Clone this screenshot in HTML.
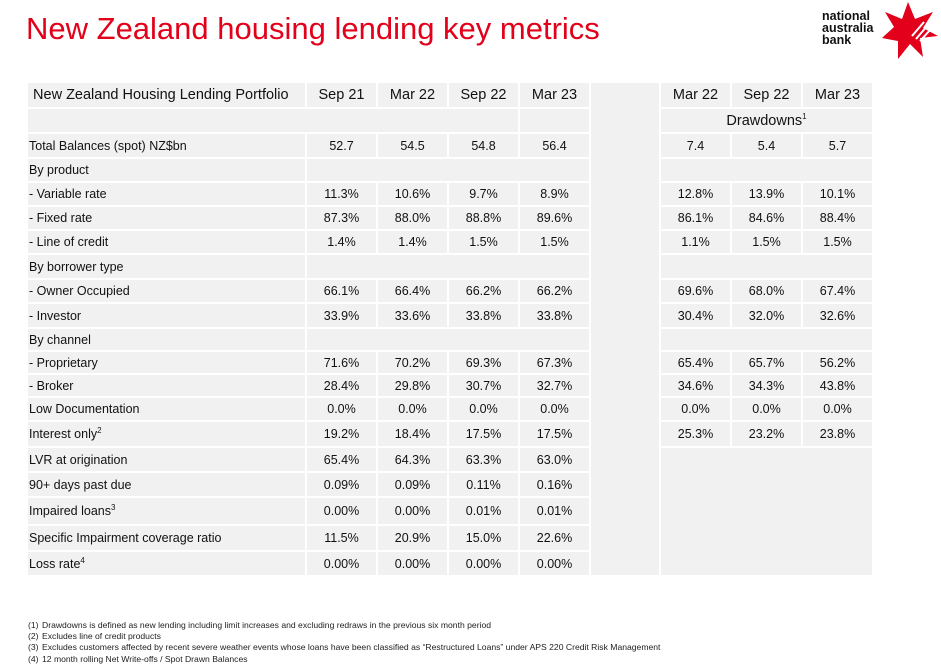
<!DOCTYPE html>
<html><head><meta charset="utf-8">
<style>
body{margin:0;width:941px;height:670px;background:#fff;position:relative;overflow:hidden;font-family:"Liberation Sans",sans-serif;}
.c{position:absolute;background:#f1f1f1;box-sizing:border-box;font-size:12.5px;color:#111;display:flex;align-items:center;white-space:nowrap;}
.v{justify-content:center;}
.l{padding-left:1px;}
.h{font-size:14.5px;}
#title{position:absolute;left:26px;top:11px;font-size:31px;color:#e2001a;white-space:nowrap;}
#logo-text{position:absolute;left:822px;top:10px;font-size:12.5px;font-weight:bold;line-height:12px;color:#111;}
.fn{position:absolute;left:28px;font-size:8.6px;color:#222;white-space:nowrap;}
.fn span{display:inline-block;width:14px;}
sup{font-size:8px;vertical-align:super;line-height:0;}
</style></head>
<body>
<div id="title">New Zealand housing lending key metrics</div>
<div id="logo-text">national<br>australia<br>bank</div>
<svg style="position:absolute;left:878px;top:0px" width="62" height="62">
<polygon fill="#e2001a" points="30,2 37,19 55,12 45,28 60,36 42,38 45,57 32,44 20,59 20,41 4,38 16,27 7,12 24,19"/>
<path d="M34,36 L46,22 M38,39 L50,25 M42,41 L53,29" stroke="#fff" stroke-width="2"/>
</svg>
<div id="tbl"></div>
<div class="fn" style="top:620px"><span>(1)</span>Drawdowns is defined as new lending including limit increases and excluding redraws in the previous six month period</div>
<div class="fn" style="top:631px"><span>(2)</span>Excludes line of credit products</div>
<div class="fn" style="top:642px"><span>(3)</span>Excludes customers affected by recent severe weather events whose loans have been classified as “Restructured Loans” under APS 220 Credit Risk Management</div>
<div class="fn" style="top:654px"><span>(4)</span>12 month rolling Net Write-offs / Spot Drawn Balances</div>
<script>
const periods=["Sep 21","Mar 22","Sep 22","Mar 23"];
const ddPeriods=["Mar 22","Sep 22","Mar 23"];
const labels=["Total Balances (spot) NZ$bn","By product"," - Variable rate"," - Fixed rate"," - Line of credit","By borrower type"," - Owner Occupied"," - Investor","By channel"," - Proprietary"," - Broker","Low Documentation","Interest only<sup>2</sup>","LVR at origination","90+ days past due","Impaired loans<sup>3</sup>","Specific Impairment coverage ratio","Loss rate<sup>4</sup>"];
const portfolio=[["52.7","54.5","54.8","56.4"],null,["11.3%","10.6%","9.7%","8.9%"],["87.3%","88.0%","88.8%","89.6%"],["1.4%","1.4%","1.5%","1.5%"],null,["66.1%","66.4%","66.2%","66.2%"],["33.9%","33.6%","33.8%","33.8%"],null,["71.6%","70.2%","69.3%","67.3%"],["28.4%","29.8%","30.7%","32.7%"],["0.0%","0.0%","0.0%","0.0%"],["19.2%","18.4%","17.5%","17.5%"],["65.4%","64.3%","63.3%","63.0%"],["0.09%","0.09%","0.11%","0.16%"],["0.00%","0.00%","0.01%","0.01%"],["11.5%","20.9%","15.0%","22.6%"],["0.00%","0.00%","0.00%","0.00%"]];
const drawdowns=[["7.4","5.4","5.7"],null,["12.8%","13.9%","10.1%"],["86.1%","84.6%","88.4%"],["1.1%","1.5%","1.5%"],null,["69.6%","68.0%","67.4%"],["30.4%","32.0%","32.6%"],null,["65.4%","65.7%","56.2%"],["34.6%","34.3%","43.8%"],["0.0%","0.0%","0.0%"],["25.3%","23.2%","23.8%"]];
const rowTops=[82,108,133,158,182,206,230,254,279,303,328,351,374,397,421,447,472,497,525,551,576];
const colX=[27,306,377,448,519,590,660,731,802,873];
const tbl=document.getElementById('tbl');
function cell(x0,x1,r0,r1,html,cls){
  const d=document.createElement('div');
  d.className='c '+cls;
  d.style.left=(x0+1)+'px';d.style.width=(x1-x0-2)+'px';
  d.style.top=(rowTops[r0]+1)+'px';d.style.height=(rowTops[r1]-rowTops[r0]-2)+'px';
  d.innerHTML='<span>'+html+'</span>';
  tbl.appendChild(d);return d;
}
let e;
e=cell(colX[0],colX[1],0,1,'&nbsp;New Zealand Housing Lending Portfolio','l h');


periods.forEach((p,i)=>{e=cell(colX[i+1],colX[i+2],0,1,p,'v h');

});
ddPeriods.forEach((p,i)=>{e=cell(colX[i+6],colX[i+7],0,1,p,'v h');

});
e=cell(colX[0],colX[4],1,2,'','v');


e=cell(colX[4],colX[5],1,2,'','v');


e=cell(colX[6],colX[9],1,2,'Drawdowns<sup>1</sup>','v h');


e=cell(colX[5],colX[6],0,20,'','v');


labels.forEach((lab,r)=>{
  const ri=r+2;
  e=cell(colX[0],colX[1],ri,ri+1,lab,'l');
  
  
  const vals=portfolio[r];
  if(vals){vals.forEach((v,i)=>{e=cell(colX[i+1],colX[i+2],ri,ri+1,v,'v');
    
    });}
  else{e=cell(colX[1],colX[5],ri,ri+1,'','v');
    
    }
  if(r<drawdowns.length){
    const dv=drawdowns[r];
    if(dv){dv.forEach((v,i)=>{e=cell(colX[i+6],colX[i+7],ri,ri+1,v,'v');
      
      });}
    else{e=cell(colX[6],colX[9],ri,ri+1,'','v');
      
      }
  }
});
e=cell(colX[6],colX[9],drawdowns.length+2,20,'','v');


</script>
</body></html>
